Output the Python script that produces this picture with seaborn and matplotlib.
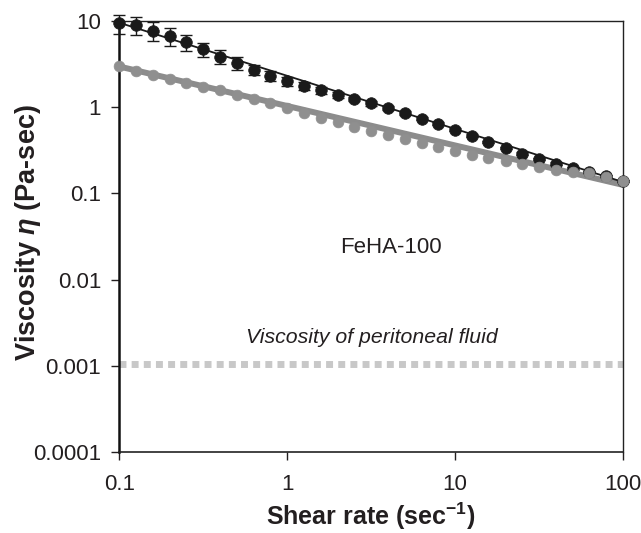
import numpy as np
import pandas as pd
import matplotlib
matplotlib.use('Agg')
import matplotlib.pyplot as plt
import seaborn as sns

# shear rate (1/s), 10 points per decade
shear_rate = [0.1, 0.126, 0.158, 0.2, 0.251, 0.316, 0.398, 0.501, 0.631, 0.794,
              1.0, 1.26, 1.58, 2.0, 2.51, 3.16, 3.98, 5.01, 6.31, 7.94,
              10.0, 12.6, 15.8, 20.0, 25.1, 31.6, 39.8, 50.1, 63.1, 79.4, 100.0]

# FeHA-100 viscosity (Pa-sec), mean and sd
visc_feha = [9.4, 9.0, 7.7, 6.6, 5.66, 4.7, 3.85, 3.23, 2.70, 2.30,
             1.98, 1.76, 1.56, 1.38, 1.24, 1.10, 0.976, 0.855, 0.735, 0.637,
             0.547, 0.467, 0.394, 0.336, 0.289, 0.251, 0.221, 0.194, 0.175, 0.158, 0.138]
visc_sd = [2.35, 2.2, 1.9, 1.55, 1.2, 0.9, 0.7, 0.55, 0.37, 0.3,
           0.23, 0.18, 0.13, 0.1, 0.08, 0.06, 0.05, 0.04, 0.03, 0.025,
           0.02, 0.018, 0.015, 0.012, 0.01, 0.008, 0.007, 0.006, 0.005, 0.005, 0.004]

# second (grey) series
visc_grey = [2.96, 2.64, 2.37, 2.11, 1.90, 1.71, 1.56, 1.39, 1.25, 1.11,
             0.977, 0.855, 0.748, 0.665, 0.589, 0.530, 0.480, 0.428, 0.384, 0.342,
             0.307, 0.281, 0.257, 0.235, 0.219, 0.200, 0.188, 0.177, 0.173, 0.155, 0.138]

# power-law fit lines (end points)
fit_x = [0.1, 100.0]
fit_black = [9.5, 0.135]
fit_grey = [2.95, 0.125]

# peritoneal fluid reference
peritoneal_x = [0.1, 100.0]
peritoneal_visc = [0.00105, 0.00105]

x_ticks = [0.1, 1, 10, 100]
x_labels = ['0.1', '1', '10', '100']
y_ticks = [0.0001, 0.001, 0.01, 0.1, 1, 10]
y_labels = ['0.0001', '0.001', '0.01', '0.1', '1', '10']

sns.set_theme(style='ticks')
plt.rcParams['font.family'] = ['Liberation Sans', 'DejaVu Sans']
plt.rcParams['mathtext.fontset'] = 'custom'
plt.rcParams['mathtext.it'] = 'Liberation Sans:italic:bold'
plt.rcParams['mathtext.bf'] = 'Liberation Sans:bold'
plt.rcParams['mathtext.rm'] = 'Liberation Sans'

df = pd.DataFrame({'rate': shear_rate, 'feha': visc_feha, 'sd': visc_sd, 'grey': visc_grey})
fits = pd.DataFrame({'x': fit_x, 'black': fit_black, 'grey': fit_grey})

txt = '#231f20'

fig = plt.figure(figsize=(6.41, 5.33), dpi=100)
ax = fig.add_axes([0.186, 0.152, 0.786, 0.809])

# reference line for peritoneal fluid
ax.plot(peritoneal_x, peritoneal_visc, color='#c8c8c8', lw=5, ls=(0, (1.0, 0.75)),
        solid_capstyle='butt', dash_capstyle='butt', zorder=1)

# grey fit line
sns.lineplot(data=fits, x='x', y='grey', ax=ax, color='#8c8c8c', lw=4.3, zorder=2)

# black series with error bars
ax.errorbar(df['rate'], df['feha'], yerr=df['sd'], fmt='none', ecolor='#1a1a1a',
            elinewidth=1.0, capsize=4, capthick=1.0, zorder=3, clip_on=False)
sns.lineplot(data=fits, x='x', y='black', ax=ax, color='#1a1a1a', lw=1.3, zorder=4)
sns.scatterplot(data=df, x='rate', y='feha', ax=ax, color='#1a1a1a', s=70,
                edgecolor='#1a1a1a', linewidth=0.5, zorder=5, clip_on=False)

# grey points on top
sns.scatterplot(data=df, x='rate', y='grey', ax=ax, color='#8f8f8f', s=60,
                edgecolor='#8f8f8f', linewidth=0.5, zorder=6, clip_on=False)

ax.set_xscale('log')
ax.set_yscale('log')
ax.set_xlim(0.1, 100)
ax.set_ylim(0.0001, 10)
ax.set_xticks(x_ticks)
ax.set_xticklabels(x_labels)
ax.set_yticks(y_ticks)
ax.set_yticklabels(y_labels)
ax.minorticks_off()
ax.tick_params(axis='both', which='major', direction='out', length=6, width=1,
               labelsize=16, colors=txt)
ax.tick_params(axis='x', pad=10)
ax.tick_params(axis='y', pad=7)
ax.tick_params(top=False, right=False)

for side in ['top', 'right']:
    ax.spines[side].set_visible(True)
    ax.spines[side].set_linewidth(1.0)
    ax.spines[side].set_color('#222222')
ax.spines['left'].set_linewidth(1.8)
ax.spines['bottom'].set_linewidth(1.2)
ax.spines['left'].set_color('#111111')
ax.spines['bottom'].set_color('#222222')

ax.set_xlabel(r'Shear rate (sec$^{\mathbf{-1}}$)', fontsize=18, fontweight='bold', color=txt)
ax.set_ylabel(r'Viscosity $\eta$ (Pa-sec)', fontsize=19.5, fontweight='bold', color=txt)
ax.xaxis.set_label_coords(0.5, -0.112)
ax.yaxis.set_label_coords(-0.152, 0.51)

ax.text(4.16, 0.0233, 'FeHA-100', fontsize=16, color=txt, ha='center', va='center')
ax.text(3.2, 0.0021, 'Viscosity of peritoneal fluid', fontsize=15.3, style='italic',
        color=txt, ha='center', va='center')

fig.savefig('out.png', dpi=100)
